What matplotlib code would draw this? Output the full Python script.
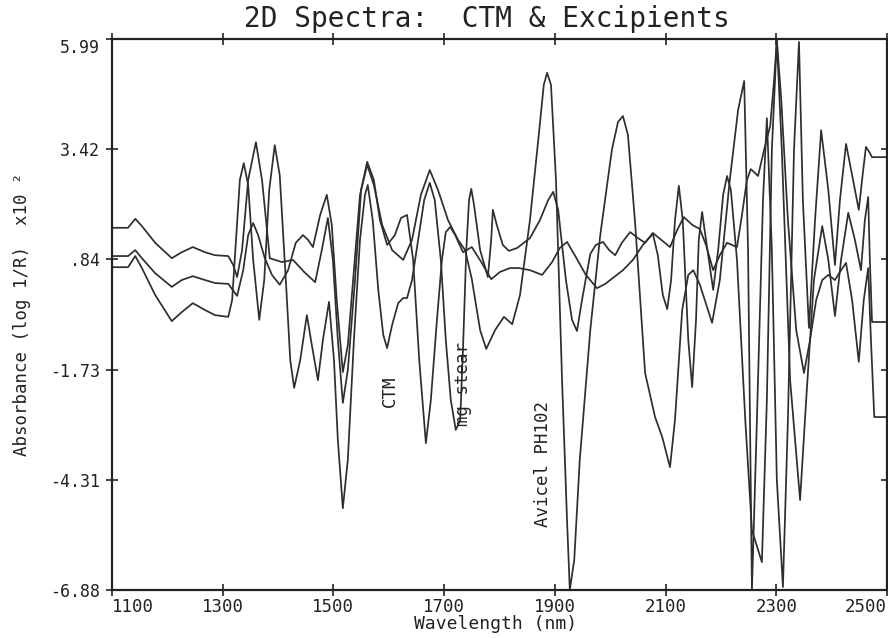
import matplotlib
matplotlib.use("Agg")
import matplotlib.pyplot as plt

# wavelength (nm) / second-derivative absorbance (x10^2)
avicel_nm = [1100, 1129, 1142, 1154, 1178, 1208, 1226, 1246, 1268, 1286, 1310, 1319, 1326, 1335, 1346, 1360,
             1371, 1385, 1407, 1427, 1447, 1467, 1479, 1490, 1499, 1508, 1517, 1526, 1539, 1550, 1561, 1573,
             1588, 1606, 1626, 1642, 1658, 1674, 1689, 1707, 1725, 1738, 1750, 1765, 1776, 1792, 1808, 1823,
             1837, 1855, 1870, 1880, 1886, 1893, 1902, 1913, 1922, 1927, 1935, 1945, 1964, 1982, 2003, 2014,
             2023, 2032, 2045, 2063, 2081, 2094, 2108, 2117, 2130, 2141, 2150, 2162, 2184, 2198, 2216, 2231,
             2242, 2249, 2256, 2265, 2276, 2283, 2292, 2301, 2312, 2321, 2332, 2341, 2348, 2359, 2370, 2381,
             2394, 2406, 2415, 2426, 2437, 2449, 2457, 2462, 2468, 2473, 2500]
avicel_abs = [1.58, 1.58, 1.79, 1.62, 1.23, 0.87, 1.01, 1.13, 1.01, 0.94, 0.92, 0.71, 0.43, 1.06, 2.70, 3.58,
              2.70, 0.87, 0.78, 0.83, 0.55, 0.31, 1.06, 1.81, 0.83, -1.04, -2.51, -1.74, 0.36, 2.46, 3.05, 2.58,
              1.65, 1.06, 0.83, 1.30, 2.35, 2.93, 2.46, 1.76, 1.30, 1.06, 0.38, -0.81, -1.25, -0.81, -0.50, -0.67,
              0.01, 1.76, 3.63, 4.92, 5.20, 4.92, 2.70, -1.98, -5.25, -6.88, -6.18, -3.84, -0.81, 1.41, 3.40, 4.05,
              4.19, 3.75, 1.69, -1.81, -2.84, -3.31, -4.01, -2.91, -0.34, 0.48, 0.59, 0.25, -0.64, 0.36, 2.70, 4.33,
              5.01, 1.06, -6.88, -2.91, 2.23, 4.14, 1.06, -4.31, -6.81, -2.91, 3.40, 5.92, 2.23, -0.76, 1.76, 3.86,
              2.46, 0.71, 2.23, 3.54, 2.81, 2.00, 2.93, 3.47, 3.35, 3.23, 3.23]

ctm_nm = [1100, 1129, 1142, 1154, 1178, 1208, 1226, 1246, 1268, 1286, 1310, 1326, 1337, 1346, 1355, 1364,
          1376, 1389, 1403, 1418, 1432, 1445, 1454, 1463, 1476, 1488, 1497, 1506, 1517, 1526, 1537, 1548,
          1561, 1573, 1584, 1597, 1611, 1622, 1633, 1644, 1655, 1667, 1676, 1687, 1696, 1703, 1711, 1720,
          1734, 1750, 1767, 1785, 1801, 1819, 1835, 1855, 1877, 1895, 1909, 1922, 1936, 1956, 1976, 1991,
          2005, 2023, 2041, 2059, 2077, 2086, 2095, 2103, 2110, 2117, 2124, 2131, 2141, 2148, 2155, 2160,
          2166, 2173, 2186, 2195, 2204, 2211, 2218, 2229, 2244, 2256, 2274, 2283, 2292, 2301, 2310, 2325,
          2343, 2354, 2368, 2383, 2394, 2406, 2417, 2430, 2442, 2453, 2460, 2466, 2469, 2473, 2500]
ctm_abs = [0.92, 0.92, 1.06, 0.87, 0.52, 0.20, 0.36, 0.45, 0.36, 0.29, 0.27, -0.01, 0.59, 1.41, 1.69, 1.41,
           0.87, 0.48, 0.25, 0.59, 1.23, 1.41, 1.30, 1.13, 1.88, 2.35, 1.65, -0.11, -1.79, -1.16, 0.59, 2.35,
           3.12, 2.70, 1.76, 1.18, 1.41, 1.81, 1.88, 0.83, -1.51, -3.45, -2.44, -0.57, 0.83, 1.48, 1.60, 1.41,
           1.01, 1.13, 0.78, 0.38, 0.55, 0.64, 0.64, 0.59, 0.48, 0.78, 1.11, 1.25, 0.94, 0.48, 0.17, 0.27,
           0.41, 0.59, 0.83, 1.18, 1.44, 0.94, 0.01, -0.32, 0.36, 1.76, 2.56, 1.76, -1.04, -2.14, -0.57, 1.30,
           1.95, 1.30, 0.13, 1.06, 2.35, 2.79, 2.46, 0.83, -2.91, -5.48, -6.23, -2.44, 3.40, 5.97, 3.40, -1.98,
           -4.78, -2.44, 0.36, 1.62, 0.83, -0.48, 0.83, 1.93, 1.30, 0.59, 1.76, 2.30, 0.83, -0.62, -0.62]

mgst_nm = [1100, 1129, 1142, 1154, 1178, 1208, 1226, 1246, 1268, 1286, 1310, 1317, 1324, 1331, 1338, 1346,
           1355, 1366, 1375, 1384, 1394, 1403, 1414, 1422, 1429, 1440, 1452, 1461, 1472, 1481, 1492, 1501,
           1508, 1517, 1526, 1537, 1548, 1557, 1562, 1571, 1581, 1590, 1597, 1606, 1617, 1626, 1633, 1642,
           1653, 1664, 1674, 1683, 1694, 1703, 1712, 1721, 1729, 1734, 1740, 1745, 1749, 1754, 1765, 1779,
           1785, 1788, 1795, 1806, 1817, 1832, 1855, 1873, 1888, 1897, 1906, 1920, 1931, 1940, 1949, 1964,
           1974, 1987, 1998, 2009, 2021, 2036, 2050, 2063, 2077, 2092, 2108, 2121, 2133, 2148, 2162, 2173,
           2186, 2198, 2211, 2220, 2229, 2238, 2247, 2254, 2260, 2267, 2278, 2289, 2296, 2301, 2309, 2321,
           2336, 2350, 2361, 2372, 2383, 2394, 2406, 2415, 2426, 2437, 2449, 2458, 2466, 2471, 2477, 2500]
mgst_abs = [0.66, 0.66, 0.92, 0.64, 0.01, -0.60, -0.39, -0.18, -0.34, -0.46, -0.50, -0.11, 1.30, 2.70, 3.09, 2.58,
            0.83, -0.57, 0.36, 2.46, 3.51, 2.81, 0.36, -1.51, -2.16, -1.51, -0.46, -1.16, -1.98, -1.04, -0.15, -1.51,
            -3.38, -4.97, -3.84, -1.04, 1.30, 2.35, 2.58, 1.76, 0.13, -0.92, -1.23, -0.69, -0.18, -0.06, -0.06, 0.36,
            1.30, 2.23, 2.63, 2.23, 0.83, -1.04, -2.44, -3.14, -2.91, -1.27, 1.06, 2.23, 2.49, 2.11, 1.06, 0.43,
            1.30, 2.00, 1.65, 1.18, 1.04, 1.11, 1.34, 1.76, 2.23, 2.42, 2.00, 0.36, -0.57, -0.83, -0.11, 0.97,
            1.18, 1.25, 1.06, 0.94, 1.23, 1.48, 1.34, 1.23, 1.46, 1.30, 1.13, 1.53, 1.83, 1.65, 1.55, 1.18,
            0.59, 0.94, 1.23, 1.18, 1.13, 1.88, 2.70, 2.95, 2.88, 2.79, 3.40, 3.96, 5.03, 5.97, 4.57, 1.76,
            -0.81, -1.81, -1.04, -0.11, 0.36, 0.48, 0.36, 0.55, 0.76, -0.11, -1.55, -0.11, 0.64, -1.04, -2.84, -2.84]

x_ticks = [1100, 1300, 1500, 1700, 1900, 2100, 2300, 2500]
y_ticks = [5.99, 3.42, 0.84, -1.73, -4.31, -6.88]
y_tick_labels = ["5.99", "3.42", ".84", "-1.73", "-4.31", "-6.88"]

plt.rcParams["font.family"] = "DejaVu Sans Mono"
ink = "#222222"

fig = plt.figure(figsize=(8.88, 6.38), dpi=100)
ax = fig.add_axes([112 / 888, 48 / 638, 775 / 888, 551 / 638])

line_kw = dict(color="#2e2e2e", lw=1.25, solid_joinstyle="round")
ax.plot(avicel_nm, avicel_abs, **line_kw)
ax.plot(ctm_nm, ctm_abs, **line_kw)
ax.plot(mgst_nm, mgst_abs, **line_kw)

ax.set_xlim(1100, 2500)
ax.set_ylim(-6.88, 5.99)

ax.set_xticks(x_ticks)
ax.set_xticklabels([str(t) for t in x_ticks], fontsize=12.5)
ax.set_yticks(y_ticks)
ax.set_yticklabels(y_tick_labels, fontsize=12)
ax.tick_params(direction="inout", length=9, width=1.2, top=True, right=True, colors=ink)
ax.tick_params(axis="x", pad=1)
ax.tick_params(axis="y", pad=4)
ax.xaxis.get_ticklabels()[0].set_horizontalalignment("left")
ax.xaxis.get_ticklabels()[-1].set_horizontalalignment("right")
ax.yaxis.get_ticklabels()[0].set_verticalalignment("top")

for side in ax.spines.values():
    side.set_linewidth(1.6)
    side.set_color(ink)

fig.text(487 / 888, 1 - 19 / 638, "2D Spectra:  CTM & Excipients", ha="center", va="center", fontsize=20, color=ink)
fig.text(496 / 888, 1 - 624 / 638, "Wavelength (nm)", ha="center", va="center", fontsize=13, color=ink)
ax.set_ylabel("Absorbance (log 1/R)  x10 \u00b2", fontsize=12.5, color=ink)
ax.yaxis.set_label_coords(-0.105, 0.5)

ax.text(1602, -2.23, "CTM", rotation=90, ha="center", va="center", fontsize=12.5, color=ink)
ax.text(1734, -2.07, "mg stear", rotation=90, ha="center", va="center", fontsize=12.5, color=ink)
ax.text(1879, -3.94, "Avicel PH102", rotation=90, ha="center", va="center", fontsize=12.5, color=ink)

fig.savefig("out.png", dpi=100)
